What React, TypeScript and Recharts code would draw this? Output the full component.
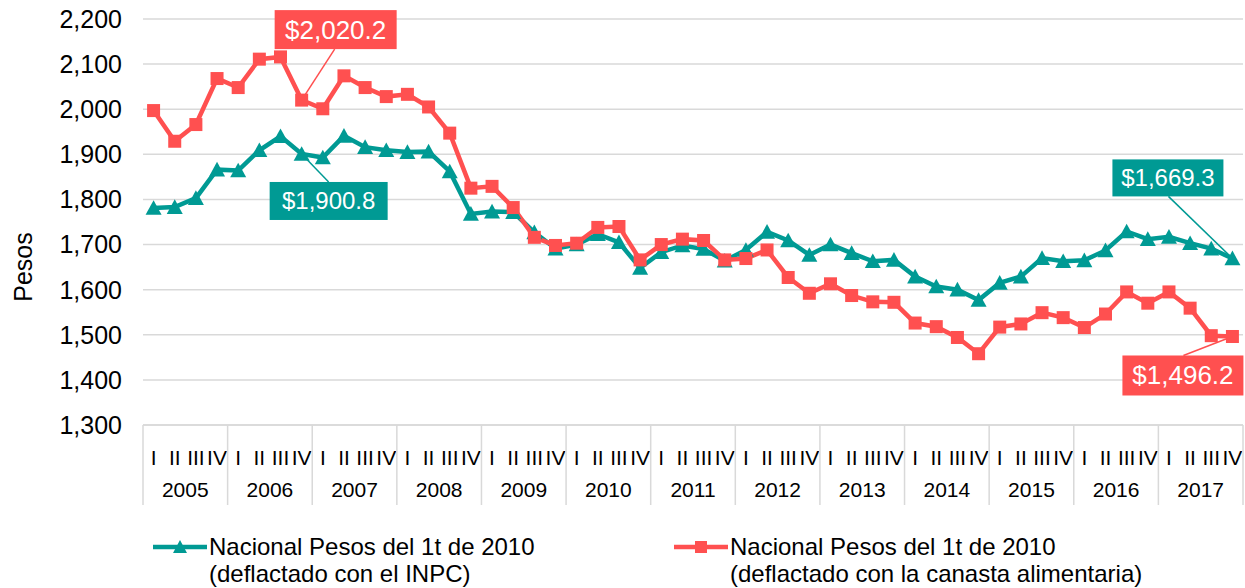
import React from "react";
import { LineChart, Line, XAxis, YAxis, CartesianGrid, Legend } from "recharts";

const years = ["2005", "2006", "2007", "2008", "2009", "2010", "2011", "2012", "2013", "2014", "2015", "2016", "2017"];
const quarters = ["I", "II", "III", "IV"];

// deflactado con el INPC
const inpcValues = [
  1781, 1783, 1803, 1866,
  1864, 1909, 1940, 1900.8,
  1893, 1941, 1916, 1909,
  1905, 1906, 1862, 1768,
  1773, 1772, 1727, 1691,
  1700, 1723, 1705, 1648,
  1683, 1698, 1690, 1664,
  1688, 1728, 1709, 1677,
  1700, 1681, 1663, 1666,
  1629, 1607, 1600, 1577,
  1615, 1629, 1670, 1663,
  1665, 1687, 1729, 1712,
  1717, 1703, 1691, 1669.3,
];

// deflactado con la canasta alimentaria
const canastaValues = [
  1997, 1929, 1966, 2068,
  2048, 2111, 2116, 2020.2,
  2001, 2074, 2048, 2028,
  2033, 2005, 1947, 1825,
  1829, 1782, 1716, 1698,
  1703, 1738, 1740, 1666,
  1700, 1712, 1709, 1666,
  1669, 1688, 1627, 1592,
  1613, 1587, 1573, 1572,
  1526, 1518, 1494, 1458,
  1517, 1524, 1549, 1538,
  1516, 1546, 1595, 1570,
  1595, 1559, 1498, 1496.2,
];

const yTicks = [1300, 1400, 1500, 1600, 1700, 1800, 1900, 2000, 2100, 2200];

const inpcName = ["Nacional Pesos del 1t de 2010", "(deflactado con el INPC)"];
const canastaName = ["Nacional Pesos del 1t de 2010", "(deflactado con la canasta alimentaria)"];

const data = years.flatMap((year, yi) =>
  quarters.map((quarter, qi) => ({
    key: `${year}-${quarter}`,
    year,
    quarter,
    inpc: inpcValues[yi * 4 + qi],
    canasta: canastaValues[yi * 4 + qi],
  }))
);

const TEAL = "#009a94";
const RED = "#ff5050";
const GRID = "#d9d9d9";
const FONT = "'Liberation Sans', Arial, sans-serif";

const W = 1245;
const H = 588;
const MARGIN = { top: 19, right: 2, bottom: 27, left: 0 };
const Y_W = 143;
const BAND = (W - MARGIN.left - MARGIN.right - Y_W) / data.length;
const LAST = data.length - 1;

const money = (v: number) =>
  "$" + v.toLocaleString("en-US", { minimumFractionDigits: 1, maximumFractionDigits: 1 });

function Triangle({ cx, cy, size = 16 }: any) {
  if (cx == null || cy == null) return null;
  const h = size * 0.85;
  return (
    <polygon
      points={`${cx},${cy - h / 2 - 1} ${cx - size / 2},${cy + h / 2} ${cx + size / 2},${cy + h / 2}`}
      fill={TEAL}
    />
  );
}

function Square({ cx, cy, size = 13 }: any) {
  if (cx == null || cy == null) return null;
  return <rect x={cx - size / 2} y={cy - size / 2} width={size} height={size} fill={RED} />;
}

function QuarterTick({ x, y, payload, index }: any) {
  const i = payload?.index ?? index;
  const row = data[i];
  if (!row) return null;
  const half = BAND / 2;
  return (
    <g>
      <text x={x} y={y + 40} textAnchor="middle" fontSize={21} fontFamily={FONT} fill="#000">
        {row.quarter}
      </text>
      {i % 4 === 0 && (
        <line x1={x - half} x2={x - half} y1={y} y2={y + 80} stroke={GRID} strokeWidth={1.5} />
      )}
      {i % 4 === 1 && (
        <text x={x + half} y={y + 72} textAnchor="middle" fontSize={21} fontFamily={FONT} fill="#000">
          {row.year}
        </text>
      )}
      {i === LAST && (
        <line x1={x + half} x2={x + half} y1={y} y2={y + 80} stroke={GRID} strokeWidth={1.5} />
      )}
    </g>
  );
}

function Callout({ x, y, value, fill, fontSize, box, lead }: any) {
  const [x1, y1, x2, y2] = box;
  return (
    <g>
      <line x1={x + lead[0]} y1={y + lead[1]} x2={x} y2={y} stroke={fill} strokeWidth={1.5} />
      <rect x={x + x1} y={y + y1} width={x2 - x1} height={y2 - y1} fill={fill} />
      <text
        x={x + (x1 + x2) / 2}
        y={y + (y1 + y2) / 2}
        textAnchor="middle"
        dominantBaseline="central"
        fontSize={fontSize}
        fontFamily={FONT}
        fill="#fff"
      >
        {money(value)}
      </text>
    </g>
  );
}

const inpcLabel = (p: any) => {
  if (p.index === 7)
    return <Callout {...p} fill={TEAL} fontSize={24} box={[-32, 28, 86, 66]} lead={[27, 28]} />;
  if (p.index === LAST)
    return <Callout {...p} fill={TEAL} fontSize={24} box={[-120, -99, -9, -62]} lead={[-64, -62]} />;
  return null;
};

const canastaLabel = (p: any) => {
  if (p.index === 7)
    return <Callout {...p} fill={RED} fontSize={26} box={[-27, -90, 95, -51]} lead={[33, -51]} />;
  if (p.index === LAST)
    return <Callout {...p} fill={RED} fontSize={26} box={[-110, 19, 11, 59]} lead={[-49, 19]} />;
  return null;
};

function LegendIcon({ kind, color }: { kind: string; color: string }) {
  return (
    <svg width={58} height={20} style={{ display: "block" }}>
      <line x1={2} x2={56} y1={10} y2={10} stroke={color} strokeWidth={4.5} />
      {kind === "triangle" ? <Triangle cx={29} cy={10} size={14} /> : <Square cx={29} cy={10} size={12} />}
    </svg>
  );
}

function ChartLegend() {
  const items = [
    { name: inpcName, color: TEAL, kind: "triangle", left: 151 },
    { name: canastaName, color: RED, kind: "square", left: 672 },
  ];
  return (
    <div style={{ position: "relative", width: W, height: 56, fontFamily: FONT }}>
      {items.map((it) => (
        <div
          key={it.left}
          style={{ position: "absolute", left: it.left, top: 0, display: "flex", alignItems: "flex-start" }}
        >
          <div style={{ marginTop: 4 }}>
            <LegendIcon kind={it.kind} color={it.color} />
          </div>
          <div style={{ fontSize: 24, lineHeight: "27px", color: "#000", whiteSpace: "nowrap" }}>
            {it.name[0]}
            <br />
            {it.name[1]}
          </div>
        </div>
      ))}
    </div>
  );
}

function PesosLabel({ viewBox }: any) {
  const cx = 23;
  const cy = (viewBox?.y ?? 19) + 248;
  return (
    <text
      x={cx}
      y={cy}
      transform={`rotate(-90 ${cx} ${cy})`}
      textAnchor="middle"
      dominantBaseline="central"
      fontSize={25}
      fontFamily={FONT}
      fill="#000"
    >
      Pesos
    </text>
  );
}

export default function App() {
  return (
    <div style={{ position: "absolute", left: 0, top: 0, width: W, height: H, background: "#fff" }}>
      <LineChart width={W} height={H} data={data} margin={MARGIN}>
        <CartesianGrid vertical={false} stroke={GRID} strokeWidth={1.5} />
        <XAxis
          dataKey="key"
          interval={0}
          height={80}
          padding={{ left: BAND / 2, right: BAND / 2 }}
          tickLine={false}
          tickSize={0}
          tickMargin={0}
          axisLine={{ stroke: GRID, strokeWidth: 1.5 }}
          tick={<QuarterTick />}
        />
        <YAxis
          width={Y_W}
          domain={[1300, 2200]}
          ticks={yTicks}
          interval={0}
          axisLine={false}
          tickLine={false}
          tickSize={0}
          tickMargin={21}
          tickFormatter={(v: number) => v.toLocaleString("en-US")}
          tick={{ fontSize: 25, fontFamily: FONT, fill: "#000" }}
          label={<PesosLabel />}
        />
        <Line
          dataKey="inpc"
          name={inpcName.join(" ")}
          stroke={TEAL}
          strokeWidth={4.5}
          dot={(p: any) => <Triangle key={`t-${p.index}`} cx={p.cx} cy={p.cy} />}
          activeDot={false}
          label={inpcLabel}
          isAnimationActive={false}
        />
        <Line
          dataKey="canasta"
          name={canastaName.join(" ")}
          stroke={RED}
          strokeWidth={4.5}
          dot={(p: any) => <Square key={`s-${p.index}`} cx={p.cx} cy={p.cy} />}
          activeDot={false}
          label={canastaLabel}
          isAnimationActive={false}
        />
        <Legend
          verticalAlign="bottom"
          content={() => <ChartLegend />}
          wrapperStyle={{ left: 0, top: 533, width: W, height: 56 }}
        />
      </LineChart>
    </div>
  );
}
